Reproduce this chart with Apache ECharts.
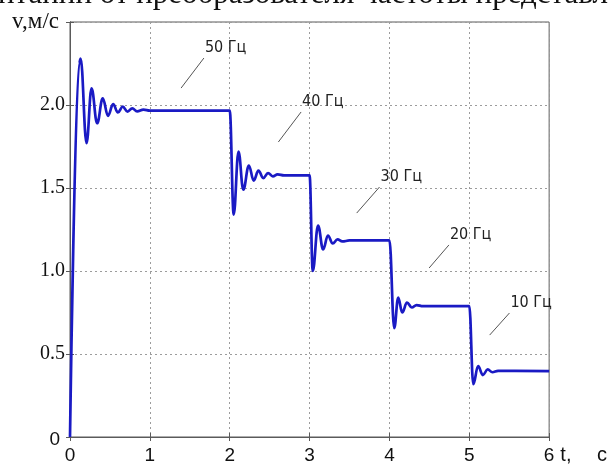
<!DOCTYPE html>
<html><head><meta charset="utf-8">
<script src="https://cdn.jsdelivr.net/npm/echarts@6/dist/echarts.min.js"></script>
<style>html,body{margin:0;padding:0;background:#fff}#c{width:610px;height:466px}</style>
</head><body><div id="c"></div>
<script>
// time, s
const timeS = [0, 0.115, 0.133, 0.207, 0.27, 0.34, 0.41, 0.476, 0.54, 0.60, 0.66, 0.72, 0.78, 0.84, 0.92, 1.0, 1.99,
  2.0, 2.05, 2.11, 2.17, 2.24, 2.30, 2.36, 2.42, 2.48, 2.54, 2.60, 2.68, 2.99,
  3.0, 3.04, 3.106, 3.17, 3.23, 3.29, 3.35, 3.41, 3.5, 3.99,
  4.0, 4.06, 4.11, 4.16, 4.22, 4.28, 4.34, 4.42, 4.99,
  5.0, 5.05, 5.11, 5.17, 5.23, 5.29, 5.36, 6.0];
// speed, m/s
const speed = [0, 2.25, 2.28, 1.77, 2.10, 1.89, 2.04, 1.935, 2.005, 1.955, 1.99, 1.96, 1.98, 1.962, 1.972, 1.966, 1.966,
  1.966, 1.34, 1.72, 1.49, 1.635, 1.545, 1.605, 1.56, 1.59, 1.57, 1.582, 1.576, 1.576,
  1.576, 1.0, 1.274, 1.13, 1.214, 1.166, 1.19, 1.178, 1.184, 1.184,
  1.184, 0.655, 0.84, 0.75, 0.81, 0.78, 0.795, 0.788, 0.788,
  0.788, 0.318, 0.427, 0.373, 0.407, 0.39, 0.398, 0.397];
const xTickLabels = ['0', '1', '2', '3', '4', '5', '6'];
const yTickLabels = ['0', '0.5', '1.0', '1.5', '2.0', ''];
// annotations (frequency labels with leader lines)
const noteLabels = ['50 Гц', '40 Гц', '30 Гц', '20 Гц', '10 Гц'];
const noteFromT = [1.391, 2.609, 3.590, 4.497, 5.255];
const noteFromV = [2.102, 1.777, 1.349, 1.018, 0.614];
const noteToT = [1.677, 2.894, 3.876, 4.745, 5.503];
const noteToV = [2.283, 1.958, 1.506, 1.157, 0.747];
const headerText = 'итании от преобразователя частоты представлены';

const chart = echarts.init(document.getElementById('c'), null, {renderer: 'canvas'});
const serif = '"Liberation Serif","Times New Roman",serif';
const sans = '"Liberation Sans",Arial,sans-serif';
const narrow = '"Liberation Sans Narrow","Arial Narrow","DejaVu Sans Condensed",sans-serif';

const series = [{
  type: 'line',
  name: 'v',
  data: timeS.map((t, i) => [t, speed[i]]),
  showSymbol: false,
  symbol: 'none',
  smooth: 0.4,
  smoothMonotone: 'x',
  lineStyle: {color: '#1a1ac4', width: 2.7},
  z: 5
}];
noteLabels.forEach((lab, i) => {
  series.push({
    type: 'line',
    name: lab,
    data: [[noteFromT[i], noteFromV[i]], [noteToT[i], noteToV[i]]],
    symbol: 'none',
    lineStyle: {color: '#555', width: 1},
    endLabel: {
      show: true, formatter: '{a}', distance: 1, offset: [0, -10],
      fontFamily: narrow, fontSize: 16, color: '#222'
    },
    z: 4
  });
});

const splitStyle = {show: true, lineStyle: {color: '#9c9c9c', type: [2, 3], width: 1}};
chart.setOption({
  animation: false,
  backgroundColor: '#fff',
  grid: {left: 70, right: 57, top: 22, bottom: 29, show: true, borderColor: '#5a5a5a', borderWidth: 1, backgroundColor: '#fff'},
  xAxis: [{
    type: 'value', min: 0, max: 6, interval: 1,
    name: 't,\u2003 с', nameLocation: 'end', nameGap: 3,
    nameTextStyle: {fontFamily: sans, fontSize: 20, color: '#111', verticalAlign: 'top', padding: [8, 0, 0, 0]},
    axisLine: {show: true, lineStyle: {color: '#5a5a5a', width: 1}},
    axisTick: {show: true, inside: true, length: 4, lineStyle: {color: '#5a5a5a'}},
    axisLabel: {fontFamily: sans, fontSize: 19, color: '#111', margin: 9,
      formatter: v => xTickLabels[Math.round(v)]},
    splitLine: splitStyle
  }, {
    type: 'value', min: 0, max: 6, interval: 1, position: 'top',
    axisLine: {show: true, lineStyle: {color: '#5a5a5a'}},
    axisTick: {show: true, inside: true, length: 4, lineStyle: {color: '#5a5a5a'}},
    axisLabel: {show: false}, splitLine: {show: false}
  }],
  yAxis: [{
    type: 'value', min: 0, max: 2.5, interval: 0.5,
    name: 'v,м/с', nameLocation: 'end', nameGap: 0,
    nameTextStyle: {fontFamily: serif, fontSize: 23, color: '#111', align: 'right', verticalAlign: 'middle', padding: [2, 11, 0, 0]},
    axisLine: {show: true, lineStyle: {color: '#5a5a5a', width: 1}},
    axisTick: {show: true, inside: true, length: 4, lineStyle: {color: '#5a5a5a'}},
    axisLabel: {fontFamily: serif, fontSize: 20, color: '#111', margin: 5,
      formatter: v => { const s = yTickLabels[Math.round(v * 2)]; return s === '0' ? '{z|0}' : s; },
      rich: {z: {fontFamily: sans, fontSize: 19, color: '#111', padding: [6, 5, 0, 0]}}},
    splitLine: splitStyle
  }, {
    type: 'value', min: 0, max: 2.5, interval: 0.5, position: 'right',
    axisLine: {show: true, lineStyle: {color: '#5a5a5a'}},
    axisTick: {show: true, inside: true, length: 4, lineStyle: {color: '#5a5a5a'}},
    axisLabel: {show: false}, splitLine: {show: false}
  }],
  graphic: [{
    type: 'text', left: -2, top: -21, silent: true,
    style: {text: headerText, font: '31px ' + serif, fill: '#111'}
  }],
  series: series
});
</script></body></html>
